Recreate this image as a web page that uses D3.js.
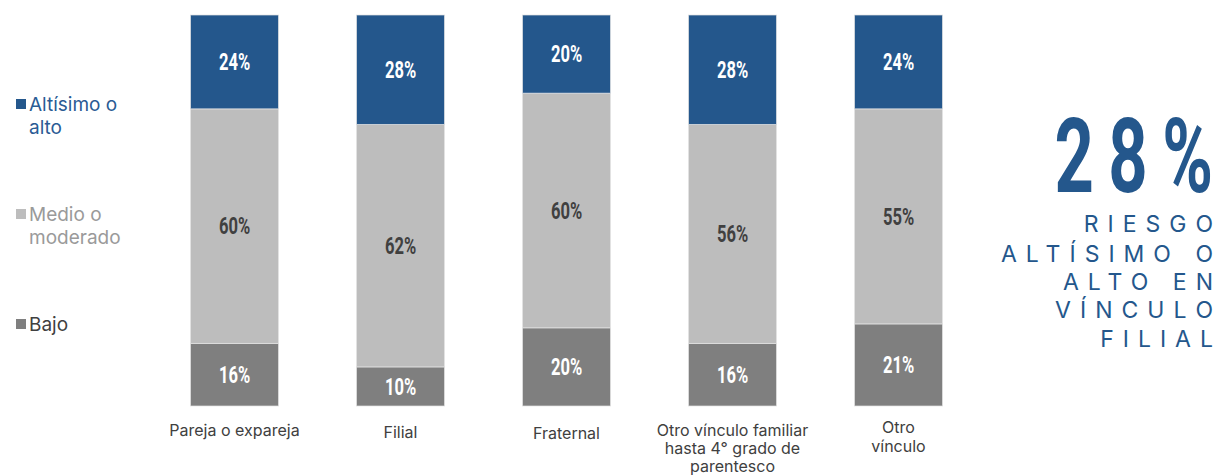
<!DOCTYPE html>
<html>
<head>
<meta charset="utf-8">
<script src="https://cdn.jsdelivr.net/npm/d3@7"></script>
<style>
  html, body { margin: 0; padding: 0; background: #fff; }
  svg { display: block; }
</style>
</head>
<body>
<svg id="chart" width="1215" height="475"></svg>
<script>
// Risk level by type of relationship (percent of cases)
const categories = [
  "Pareja o expareja",
  "Filial",
  "Fraternal",
  "Otro vínculo familiar hasta 4° grado de parentesco",
  "Otro vínculo"
];
const categoryLines = [
  ["Pareja o expareja"],
  ["Filial"],
  ["Fraternal"],
  ["Otro vínculo familiar", "hasta 4° grado de", "parentesco"],
  ["Otro", "vínculo"]
];
const seriesNames = ["Bajo", "Medio o moderado", "Altísimo o alto"];
const bajo  = [16, 10, 20, 16, 21];
const medio = [60, 62, 60, 56, 55];
const alto  = [24, 28, 20, 28, 24];
const legendLines = [["Altísimo o", "alto"], ["Medio o", "moderado"], ["Bajo"]];
const highlightValue = "28%";
const highlightText = ["RIESGO", "ALTÍSIMO O", "ALTO EN", "VÍNCULO", "FILIAL"];

const colors = { "Bajo": "#7f7f7f", "Medio o moderado": "#bdbdbd", "Altísimo o alto": "#24578c" };
const labelColors = { "Bajo": "#ffffff", "Medio o moderado": "#404040", "Altísimo o alto": "#ffffff" };
const legendTextColors = ["#2a5b94", "#9a9a9a", "#404040"];
const sansFont = "Inter, Roboto, 'Liberation Sans', sans-serif";

const svg = d3.select("#chart");

const table = categories.map((c, i) => ({
  category: c,
  "Bajo": bajo[i],
  "Medio o moderado": medio[i],
  "Altísimo o alto": alto[i]
}));
const stacked = d3.stack().keys(seriesNames)(table);

const x = d3.scaleBand().domain(categories).range([190.5, 942.5]).paddingInner(78 / 166).paddingOuter(0);
const y = d3.scaleLinear().domain([0, 100]).range([406, 15]);

// stacked bars
const layers = svg.append("g").selectAll("g")
  .data(stacked).join("g")
  .attr("fill", d => colors[d.key]);

layers.selectAll("rect")
  .data(d => d.map(v => Object.assign(v, { key: d.key })))
  .join("rect")
  .attr("x", d => x(d.data.category))
  .attr("y", d => y(d[1]))
  .attr("width", x.bandwidth())
  .attr("height", d => y(d[0]) - y(d[1]))
  .attr("stroke", "#e4e4e4")
  .attr("stroke-opacity", 0.7)
  .attr("stroke-width", 1);

// value labels (condensed bold look)
const labelScale = 0.72;
layers.selectAll("text")
  .data(d => d)
  .join("text")
  .attr("transform", d => {
    const cx = x(d.data.category) + x.bandwidth() / 2;
    const cy = (y(d[0]) + y(d[1])) / 2;
    return `translate(${cx},${cy}) scale(${labelScale},1)`;
  })
  .attr("text-anchor", "middle")
  .attr("dy", "0.36em")
  .attr("font-family", "Roboto, 'DejaVu Sans', sans-serif")
  .attr("font-weight", 700)
  .attr("font-size", 23)
  .attr("fill", d => labelColors[d.key])
  .text(d => (d[1] - d[0]) + "%");

// category labels below bars
const catBaselines = [436, 437.7, 439.3, 436, 433.3];
const catG = svg.append("g")
  .attr("font-family", sansFont)
  .attr("font-size", 16)
  .attr("fill", "#404040")
  .attr("text-anchor", "middle");
categories.forEach((c, i) => {
  const t = catG.append("text")
    .attr("x", x(c) + x.bandwidth() / 2)
    .attr("y", catBaselines[i]);
  categoryLines[i].forEach((line, j) => {
    t.append("tspan")
      .attr("x", x(c) + x.bandwidth() / 2)
      .attr("dy", j === 0 ? 0 : 18.2)
      .text(line);
  });
});

// legend
const legendKeys = ["Altísimo o alto", "Medio o moderado", "Bajo"];
const legendTops = [104, 214, 324];
const legend = svg.append("g")
  .attr("font-family", sansFont)
  .attr("font-size", 19);
legendKeys.forEach((k, i) => {
  const g = legend.append("g");
  g.append("rect")
    .attr("x", 16).attr("y", legendTops[i] - 5)
    .attr("width", 10).attr("height", 10)
    .attr("fill", colors[k]);
  const t = g.append("text").attr("fill", legendTextColors[i]);
  legendLines[i].forEach((line, j) => {
    t.append("tspan")
      .attr("x", 29)
      .attr("y", legendTops[i] + 7 + j * 23)
      .text(line);
  });
});

// letter-spaced, right-aligned text without trailing spacing after the last glyph
function spacedText(sel, str, spacing) {
  sel.append("tspan").attr("letter-spacing", spacing).text(str.slice(0, -1));
  sel.append("tspan").attr("letter-spacing", 0).text(str.slice(-1));
}

// highlight figure on the right
const rightEdge = 1213;
const bigText = svg.append("text")
  .attr("transform", `translate(${rightEdge},192) scale(0.66,1)`)
  .attr("text-anchor", "end")
  .attr("font-family", "Roboto, 'DejaVu Sans', sans-serif")
  .attr("font-weight", 700)
  .attr("font-size", 104)
  .attr("fill", "#24578c");
spacedText(bigText, highlightValue, 22);

const hl = svg.append("g")
  .attr("font-family", sansFont)
  .attr("font-size", 23)
  .attr("fill", "#24578c")
  .attr("text-anchor", "end");
const hlBaselines = [232, 262, 290, 318, 347];
highlightText.forEach((line, i) => {
  const t = hl.append("text")
    .attr("x", rightEdge)
    .attr("y", hlBaselines[i]);
  spacedText(t, line, 9);
});
</script>
</body>
</html>
